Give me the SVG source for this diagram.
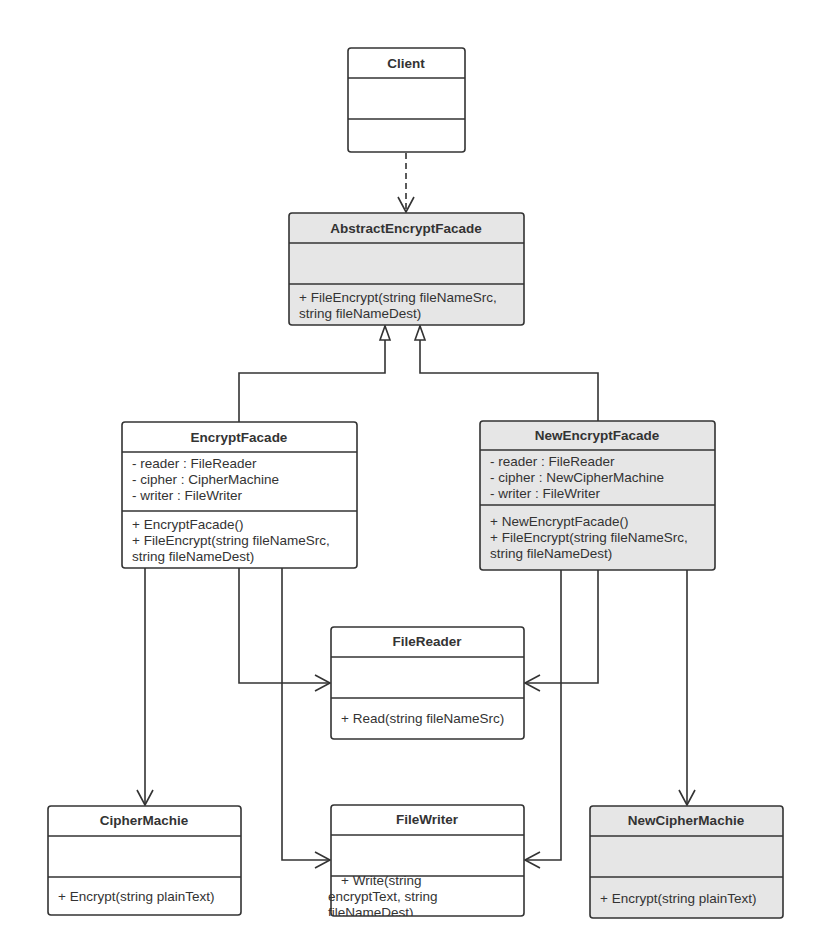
<svg xmlns="http://www.w3.org/2000/svg" width="815" height="950" viewBox="0 0 815 950">
<defs>
<style>
.box{stroke:#333;stroke-width:1.6;}
.w{fill:#fff}
.g{fill:#e6e6e6}
.ln{stroke:#333;stroke-width:1.6;fill:none}
.t{font-family:"Liberation Sans",Arial,sans-serif;font-size:13.5px;fill:#333}
.h{font-family:"Liberation Sans",Arial,sans-serif;font-size:13.5px;font-weight:bold;fill:#333;text-anchor:middle}
.c{stroke:#333;stroke-width:1.6;fill:none}
</style>
<marker id="open" viewBox="0 0 20 20" refX="16" refY="10" markerWidth="20" markerHeight="20" markerUnits="userSpaceOnUse" orient="auto">
<path d="M1,2 L16,10 L1,18" fill="none" stroke="#333" stroke-width="1.6"/>
</marker>
<marker id="tri" viewBox="0 0 20 20" refX="17" refY="10" markerWidth="20" markerHeight="20" markerUnits="userSpaceOnUse" orient="auto">
<path d="M3,5 L17,10 L3,15 Z" fill="#fff" stroke="#333" stroke-width="1.6"/>
</marker>
</defs>
<rect width="815" height="950" fill="#fff"/>

<g id="connectors">
<path class="c" d="M406,153 L406,212" stroke-dasharray="6,4" marker-end="url(#open)"/>
<path class="c" d="M239,422 L239,373 L385,373 L385,326" marker-end="url(#tri)"/>
<path class="c" d="M598,421 L598,373 L420,373 L420,326" marker-end="url(#tri)"/>
<path class="c" d="M145,568 L145,805" marker-end="url(#open)"/>
<path class="c" d="M239,568 L239,683 L330,683" marker-end="url(#open)"/>
<path class="c" d="M282,568 L282,860 L330,860" marker-end="url(#open)"/>
<path class="c" d="M598,570 L598,683 L525,683" marker-end="url(#open)"/>
<path class="c" d="M561,570 L561,860 L525,860" marker-end="url(#open)"/>
<path class="c" d="M687,570 L687,805" marker-end="url(#open)"/>
</g>

<g id="Client">
<rect class="box w" x="348" y="48" width="117" height="104" rx="3"/>
<line class="ln" x1="348" y1="78" x2="465" y2="78"/>
<line class="ln" x1="348" y1="119" x2="465" y2="119"/>
<text class="h" x="406" y="68">Client</text>
</g>

<g id="AbstractEncryptFacade">
<rect class="box g" x="289" y="213" width="235" height="112" rx="3"/>
<line class="ln" x1="289" y1="243" x2="524" y2="243"/>
<line class="ln" x1="289" y1="284" x2="524" y2="284"/>
<text class="h" x="406" y="233">AbstractEncryptFacade</text>
<text class="t" x="299" y="302">+ FileEncrypt(string fileNameSrc,</text>
<text class="t" x="299" y="318">string fileNameDest)</text>
</g>

<g id="EncryptFacade">
<rect class="box w" x="122" y="422" width="235" height="146" rx="3"/>
<line class="ln" x1="122" y1="452" x2="357" y2="452"/>
<line class="ln" x1="122" y1="511" x2="357" y2="511"/>
<text class="h" x="239" y="442">EncryptFacade</text>
<text class="t" x="132" y="468">- reader : FileReader</text>
<text class="t" x="132" y="484">- cipher : CipherMachine</text>
<text class="t" x="132" y="500">- writer : FileWriter</text>
<text class="t" x="132" y="529">+ EncryptFacade()</text>
<text class="t" x="132" y="545">+ FileEncrypt(string fileNameSrc,</text>
<text class="t" x="132" y="561">string fileNameDest)</text>
</g>

<g id="NewEncryptFacade">
<rect class="box g" x="480" y="421" width="235" height="149" rx="3"/>
<line class="ln" x1="480" y1="450" x2="715" y2="450"/>
<line class="ln" x1="480" y1="505" x2="715" y2="505"/>
<text class="h" x="597" y="440">NewEncryptFacade</text>
<text class="t" x="490" y="466">- reader : FileReader</text>
<text class="t" x="490" y="482">- cipher : NewCipherMachine</text>
<text class="t" x="490" y="498">- writer : FileWriter</text>
<text class="t" x="490" y="526">+ NewEncryptFacade()</text>
<text class="t" x="490" y="542">+ FileEncrypt(string fileNameSrc,</text>
<text class="t" x="490" y="558">string fileNameDest)</text>
</g>

<g id="FileReader">
<rect class="box w" x="331" y="627" width="193" height="112" rx="3"/>
<line class="ln" x1="331" y1="657" x2="524" y2="657"/>
<line class="ln" x1="331" y1="698" x2="524" y2="698"/>
<text class="h" x="427" y="646">FileReader</text>
<text class="t" x="341" y="723">+ Read(string fileNameSrc)</text>
</g>

<g id="CipherMachie">
<rect class="box w" x="48" y="806" width="193" height="109" rx="3"/>
<line class="ln" x1="48" y1="836" x2="241" y2="836"/>
<line class="ln" x1="48" y1="877" x2="241" y2="877"/>
<text class="h" x="144" y="825">CipherMachie</text>
<text class="t" x="58" y="901">+ Encrypt(string plainText)</text>
</g>

<g id="FileWriter">
<rect x="331" y="805" width="193" height="111" rx="3" fill="#fff"/>
<text class="t" x="341" y="885">+ Write(string</text>
<text class="t" x="328" y="901">encryptText, string</text>
<text class="t" x="328" y="917">fileNameDest)</text>
<rect x="320" y="916" width="215" height="10" fill="#fff"/>
<rect x="331" y="805" width="193" height="111" rx="3" fill="none" stroke="#333" stroke-width="1.6"/>
<line class="ln" x1="331" y1="835" x2="524" y2="835"/>
<line class="ln" x1="331" y1="876" x2="524" y2="876"/>
<text class="h" x="427" y="824">FileWriter</text>
</g>

<g id="NewCipherMachie">
<rect class="box g" x="590" y="806" width="193" height="112" rx="3"/>
<line class="ln" x1="590" y1="836" x2="783" y2="836"/>
<line class="ln" x1="590" y1="877" x2="783" y2="877"/>
<text class="h" x="686" y="825">NewCipherMachie</text>
<text class="t" x="600" y="903">+ Encrypt(string plainText)</text>
</g>
</svg>
